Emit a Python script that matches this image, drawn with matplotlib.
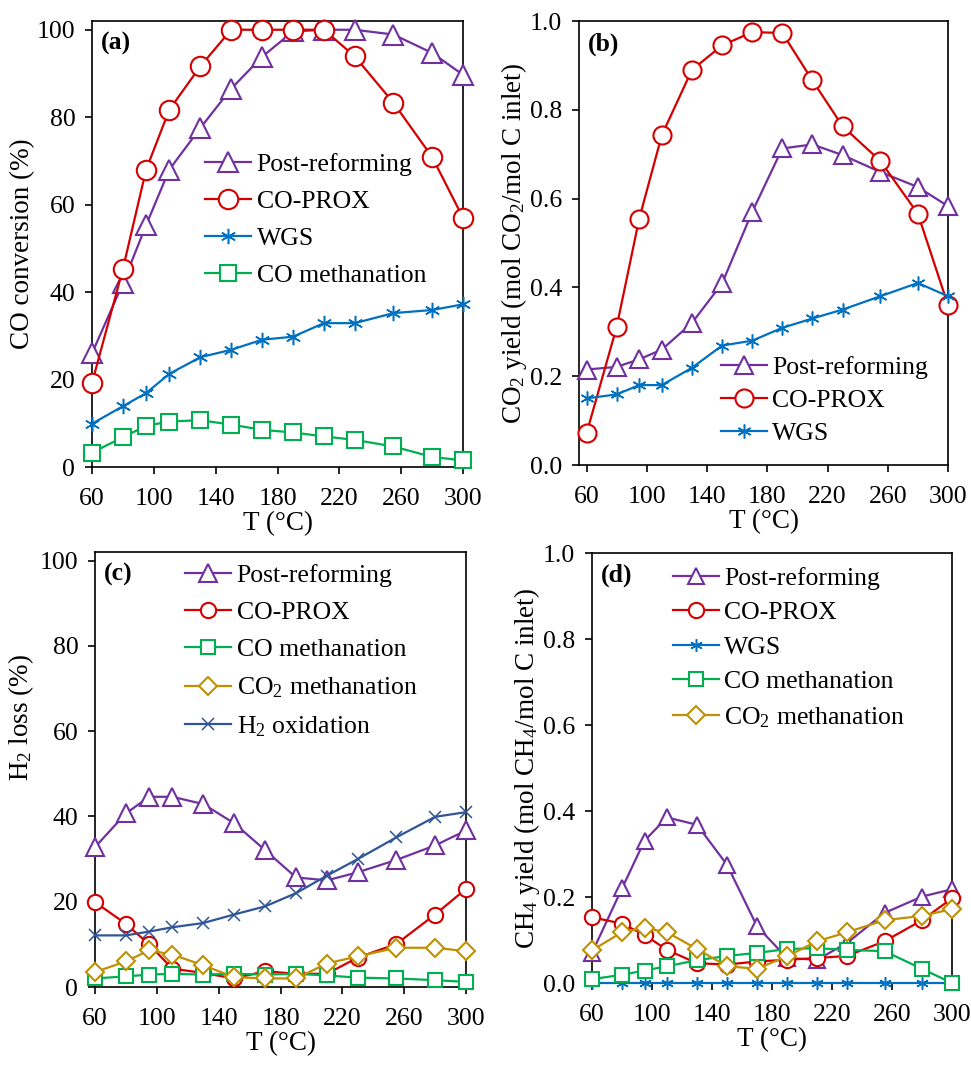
import matplotlib

matplotlib.use("Agg")
import matplotlib.pyplot as plt  # noqa: E402
from matplotlib.ticker import FormatStrFormatter  # noqa: E402

PURPLE = "#7030A0"
RED = "#D40000"
BLUE = "#0070C0"
GREEN = "#00B050"
GOLD = "#BF9000"
NAVY = "#2F5597"

T = [60, 80, 95, 110, 130, 150, 170, 190, 210, 230, 255, 280, 300]

# (a) CO conversion (%)
a_post = [26, 42, 55.3, 68, 77.5, 86.5, 93.8, 99.6, 100, 100, 98.9, 94.7, 89.7]
a_prox = [19.2, 45.3, 68, 81.7, 91.6, 100, 100, 100, 100, 93.9, 83.3, 70.9, 57]
a_wgs = [9.9, 13.9, 16.9, 21.3, 25.1, 26.8, 29.1, 29.8, 32.9, 32.9, 35.2, 35.9, 37.2]
a_meth = [3.3, 6.8, 9.4, 10.4, 10.7, 9.7, 8.5, 7.9, 7.0, 6.2, 4.7, 2.3, 1.5]

# (b) CO2 yield
b_post = [0.215, 0.221, 0.238, 0.260, 0.320, 0.409, 0.570, 0.713, 0.722, 0.698, 0.660, 0.626, 0.583]
b_prox = [0.071, 0.311, 0.555, 0.743, 0.890, 0.945, 0.975, 0.973, 0.866, 0.763, 0.685, 0.566, 0.360]
b_wgs = [0.150, 0.159, 0.180, 0.180, 0.219, 0.269, 0.280, 0.309, 0.330, 0.350, 0.380, 0.410, 0.380]

# (c) H2 loss (%)
c_post = [32.8, 40.7, 44.6, 44.6, 42.9, 38.4, 32.1, 25.7, 25.0, 26.9, 29.8, 33.2, 36.7]
c_prox = [19.9, 14.8, 10.0, 4.3, 3.3, 2.0, 3.7, 3.1, 3.1, 6.9, 10.1, 17.0, 23.0]
c_cometh = [2.0, 2.5, 2.9, 3.1, 2.9, 3.1, 2.9, 3.1, 2.7, 2.2, 2.0, 1.6, 1.2]
c_co2meth = [3.5, 6.0, 8.6, 7.6, 5.1, 2.3, 2.0, 2.0, 5.5, 7.2, 9.2, 9.2, 8.4]
c_h2ox = [12.1, 12.1, 13.0, 14.0, 15.0, 17.0, 18.9, 22.0, 26.1, 30.0, 35.1, 39.9, 41.0]

# (d) CH4 yield
d_post = [0.070, 0.220, 0.331, 0.385, 0.368, 0.275, 0.132, 0.058, 0.054, 0.093, 0.163, 0.201, 0.218]
d_prox = [0.153, 0.138, 0.112, 0.077, 0.046, 0.043, 0.050, 0.054, 0.058, 0.063, 0.097, 0.146, 0.197]
d_wgs = [0, 0, 0, 0, 0, 0, 0, 0, 0, 0, 0, 0, 0]
d_cometh = [0.009, 0.019, 0.029, 0.039, 0.053, 0.063, 0.070, 0.079, 0.081, 0.077, 0.074, 0.033, 0.0]
d_co2meth = [0.076, 0.118, 0.128, 0.118, 0.079, 0.039, 0.033, 0.062, 0.097, 0.118, 0.146, 0.156, 0.172]

plt.rcParams.update(
    {
        "font.family": "Liberation Serif",
        "font.size": 18.5,
        "mathtext.default": "regular",
        "xtick.direction": "out",
        "ytick.direction": "out",
        "xtick.major.size": 5,
        "ytick.major.size": 5,
        "xtick.major.width": 1.2,
        "ytick.major.width": 1.2,
        "axes.linewidth": 1.2,
        "legend.fontsize": 18.5,
    }
)

W, H = 971, 1070
fig = plt.figure(figsize=(W / 100, H / 100), dpi=100)


def _axes(left, top, right, bottom):
    return fig.add_axes([left / W, 1 - bottom / H, (right - left) / W, (bottom - top) / H])


STYLES = {
    "post": dict(color=PURPLE, marker="^", mfc="white", label="Post-reforming"),
    "prox": dict(color=RED, marker="o", mfc="white", label="CO-PROX"),
    "wgs": dict(color=BLUE, marker=(6, 2, 0), label="WGS"),
    "cometh": dict(color=GREEN, marker="s", mfc="white", label="CO methanation"),
    "co2meth": dict(color=GOLD, marker="D", mfc="white", label="CO$_2$ methanation"),
    "h2ox": dict(color=NAVY, marker="x", label="H$_2$ oxidation"),
}


def _series(ax, key, y, ms, lw=1.6):
    st = dict(STYLES[key])
    size = ms * 0.75 if key == "co2meth" else ms
    mew = 1.1 if key in ("wgs", "h2ox") else 1.5
    ax.plot(T, y, lw=lw, ms=size, mew=mew, clip_on=False, zorder=3, **st)


def _finish(ax, ylabel, tag, ymax, frac, xlim=(60, 300)):
    ax.set_xlim(*xlim)
    ax.set_xticks([60, 100, 140, 180, 220, 260, 300])
    ax.set_ylim(0, ymax)
    if frac:
        ax.set_yticks([0, 0.2, 0.4, 0.6, 0.8, 1.0])
        ax.yaxis.set_major_formatter(FormatStrFormatter("%.1f"))
    else:
        ax.set_yticks([0, 20, 40, 60, 80, 100])
    ax.set_xlabel("T (°C)", labelpad=1, fontsize=19.5)
    ax.set_ylabel(ylabel, labelpad=1, fontsize=19.5)
    ax.tick_params(axis="x", pad=10)
    ax.tick_params(axis="y", pad=7)
    ax.text(0.025, 0.975, tag, transform=ax.transAxes, fontweight="bold",
            fontsize=18.5, va="top", ha="left")


def _legend(ax, x, y, spacing):
    ax.legend(loc="upper left", bbox_to_anchor=(x, y), frameon=False, borderpad=0,
              borderaxespad=0, handlelength=1.8, handletextpad=0.2,
              labelspacing=spacing)


# (a)
ax = _axes(92, 21, 463, 467)
_series(ax, "post", a_post, 14)
_series(ax, "prox", a_prox, 14)
_series(ax, "wgs", a_wgs, 11)
_series(ax, "cometh", a_meth, 11)
_finish(ax, "CO conversion (%)", "(a)", 102, False)
_legend(ax, 0.305, 0.705, 0.55)

# (b)
ax = _axes(579, 21, 948, 465)
_series(ax, "post", b_post, 13)
_series(ax, "prox", b_prox, 13)
_series(ax, "wgs", b_wgs, 10)
_finish(ax, "CO$_2$ yield (mol CO$_2$/mol C inlet)", "(b)", 1.0, True, xlim=(55, 300))
_legend(ax, 0.385, 0.245, 0.38)

# (c)
ax = _axes(95, 552, 466, 987)
_series(ax, "post", c_post, 13)
_series(ax, "prox", c_prox, 11)
_series(ax, "cometh", c_cometh, 10)
_series(ax, "co2meth", c_co2meth, 12)
_series(ax, "h2ox", c_h2ox, 9)
_finish(ax, "H$_2$ loss (%)", "(c)", 102, False)
ax.yaxis.set_label_coords(-0.158, 0.62)
_legend(ax, 0.243, 0.972, 0.55)

# (d)
ax = _axes(592, 553, 952, 983)
_series(ax, "post", d_post, 11)
_series(ax, "prox", d_prox, 11)
_series(ax, "wgs", d_wgs, 9)
_series(ax, "cometh", d_cometh, 10)
_series(ax, "co2meth", d_co2meth, 12)
_finish(ax, "CH$_4$ yield (mol CH$_4$/mol C inlet)", "(d)", 1.0, True)
_legend(ax, 0.225, 0.968, 0.45)

fig.savefig("out.png", dpi=100)
